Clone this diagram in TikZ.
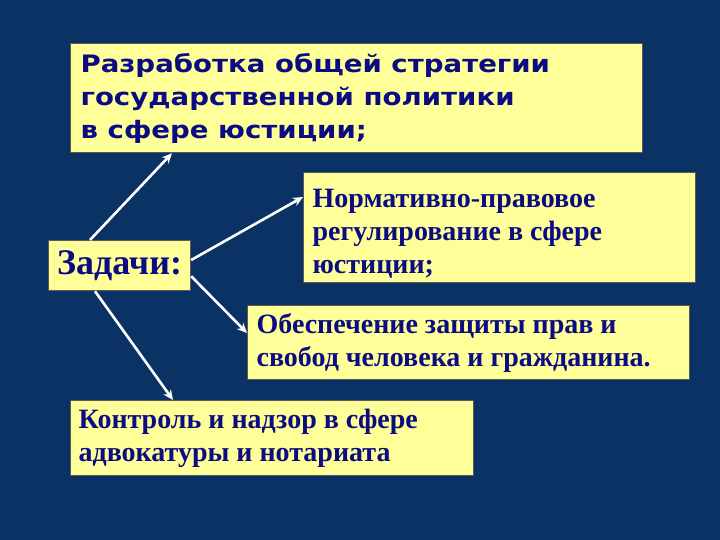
\documentclass[tikz,border=0pt]{standalone}
\usepackage{fontspec}
\setmainfont{Liberation Serif}
\newfontfamily\topfont[FakeStretch=1.15]{DejaVu Sans}
\usetikzlibrary{arrows.meta,calc}
\definecolor{bgnavy}{RGB}{10,50,100}
\definecolor{boxyellow}{RGB}{255,255,153}
\definecolor{boxborder}{RGB}{90,90,80}
\definecolor{txtnavy}{RGB}{12,12,130}
\newcommand\myserifsetup{\bfseries\fontsize{28}{33}\selectfont}
\tikzset{
  box/.style={draw=boxborder, line width=1.2pt, fill=boxyellow, anchor=north west,
    inner xsep=9pt, inner ysep=0pt, align=flush left, text=txtnavy},
  serifbody/.style={font=\myserifsetup},
  arr/.style={draw=white, line width=2.6pt, -{Stealth[length=10pt,width=9pt]}}
}
\begin{document}
\begin{tikzpicture}[x=1pt,y=-1pt]
\fill[bgnavy] (0,0) rectangle (720,540);
\useasboundingbox (0,0) rectangle (720,540);

\node[box, minimum width=572pt, minimum height=109pt, text width=552pt, inner xsep=10pt,
  font=\topfont\bfseries\fontsize{24}{33}\selectfont] (top) at (70,43)
  {Разработка общей стратегии\\государственной политики\\в сфере юстиции;};

\node[box, minimum width=142pt, minimum height=50pt, inner xsep=6pt,
  font=\bfseries\fontsize{36}{40}\selectfont] (zad) at (48,240) {Задачи:};

\node[box, serifbody, minimum width=392pt, minimum height=110pt, text width=374pt] (norm) at (303,172)
  {\rule{0pt}{30pt}Нормативно-правовое\\регулирование в сфере\\юстиции;};

\node[box, serifbody, minimum width=442pt, minimum height=74pt, text width=424pt] (obs) at (247,305)
  {Обеспечение защиты прав и\\свобод человека и гражданина.};

\node[box, serifbody, minimum width=403pt, minimum height=75pt, text width=387pt, inner xsep=8pt] (kon) at (70,400)
  {Контроль и надзор в сфере\\адвокатуры и нотариата};

\draw[arr] ([xshift=42pt]zad.north west) -- ([xshift=102pt]top.south west);
\draw[arr] ([yshift=-20pt]zad.north east) -- ([yshift=-25pt]norm.north west);
\draw[arr] ([yshift=15pt]zad.south east) -- ([yshift=-28pt]obs.north west);
\draw[arr] ([xshift=47pt]zad.south west) -- ([xshift=103pt]kon.north west);
\end{tikzpicture}
\end{document}
